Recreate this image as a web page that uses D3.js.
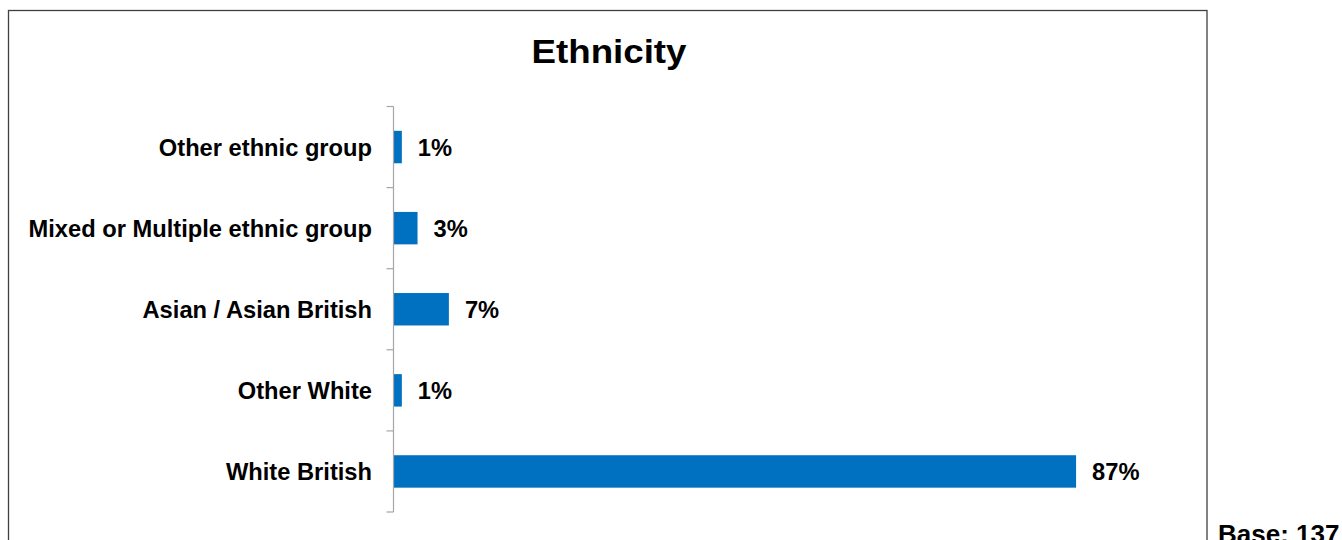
<!DOCTYPE html>
<html>
<head>
<meta charset="utf-8">
<script src="https://cdn.jsdelivr.net/npm/d3@7"></script>
<style>
  html, body { margin: 0; padding: 0; background: #fff; overflow: hidden; }
  svg { display: block; }
  text { font-family: "Liberation Sans", Arial, sans-serif; font-weight: bold; fill: #000; }
</style>
</head>
<body>
<svg id="chart" width="1342" height="540"></svg>
<script>
const categories = ["Other ethnic group", "Mixed or Multiple ethnic group", "Asian / Asian British", "Other White", "White British"];
const values = [1, 3, 7, 1, 87];
const valueLabels = ["1%", "3%", "7%", "1%", "87%"];
const titleText = "Ethnicity";
const baseText = "Base: 137";

const svg = d3.select("#chart");

// frame
svg.append("rect")
  .attr("x", 8.5).attr("y", 10.5)
  .attr("width", 1198.5).attr("height", 560)
  .attr("fill", "none").attr("stroke", "#404040").attr("stroke-width", 1.3);

const yScale = d3.scaleBand().domain(categories).range([106.5, 512]).paddingInner(0.6).paddingOuter(0.3);
const xScale = d3.scaleLinear().domain([0, 100]).range([394, 1178]);

// title
svg.append("g").attr("transform", "translate(609,63) scale(1.08,1)")
  .append("text").attr("text-anchor", "middle").attr("font-size", 34).text(titleText);

// bars
svg.selectAll("rect.bar").data(values).join("rect")
  .attr("class", "bar")
  .attr("x", xScale(0))
  .attr("y", (d, i) => yScale(categories[i]))
  .attr("width", d => xScale(d) - xScale(0))
  .attr("height", yScale.bandwidth())
  .attr("fill", "#0070C0");

// axis
const step = yScale.step();
const axisTop = yScale.range()[0];
const axisG = svg.append("g").attr("stroke", "#a6a6a6").attr("stroke-width", 1.2);
axisG.append("line").attr("x1", xScale(0) - 0.5).attr("x2", xScale(0) - 0.5).attr("y1", axisTop).attr("y2", yScale.range()[1]);
d3.range(categories.length + 1).forEach(i => {
  const yy = axisTop + i * step;
  axisG.append("line").attr("x1", xScale(0) - 7.5).attr("x2", xScale(0) - 0.5).attr("y1", yy).attr("y2", yy);
});

// category labels
categories.forEach((c, i) => {
  const cy = yScale(c) + yScale.bandwidth() / 2;
  svg.append("text")
    .attr("x", 372).attr("y", cy + 9)
    .attr("text-anchor", "end").attr("font-size", 23.7).text(c);
});

// value labels
values.forEach((v, i) => {
  const cy = yScale(categories[i]) + yScale.bandwidth() / 2;
  svg.append("text")
    .attr("x", xScale(v) + 16).attr("y", cy + 9)
    .attr("text-anchor", "start").attr("font-size", 23.7).text(valueLabels[i]);
});

// base note
svg.append("text").attr("x", 1218).attr("y", 543).attr("font-size", 26).text(baseText);
</script>
</body>
</html>
